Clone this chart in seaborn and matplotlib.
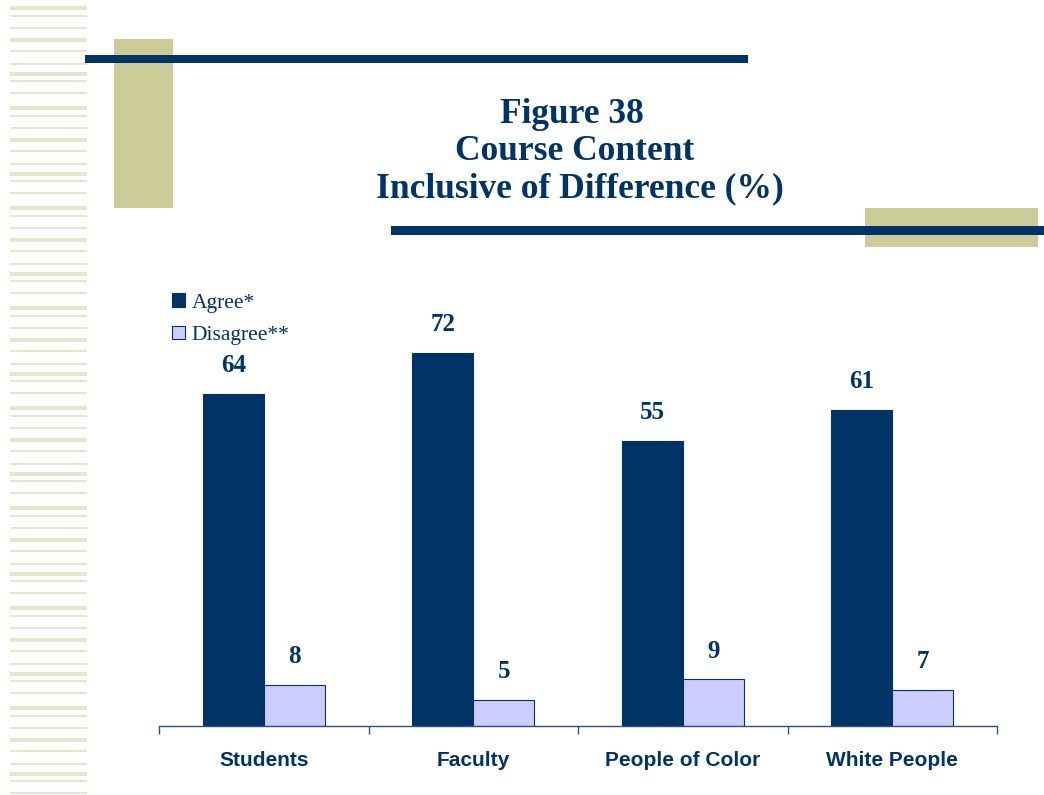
import pandas as pd
import matplotlib.pyplot as plt
import matplotlib.patches as mpatches
import seaborn as sns

# Datos del grafico
categorias = ['Students', 'Faculty', 'People of Color', 'White People']
agree = [64, 72, 55, 61]
disagree = [8, 5, 9, 7]
series = ['Agree*', 'Disagree**']

titulo = ['Figure 38', 'Course Content', 'Inclusive of Difference (%)']

navy = '#003366'
lavanda = '#CCCCFF'
caqui = '#CCCC99'
raya = '#E6E6CD'

df = pd.DataFrame({
    'Grupo': categorias * 2,
    'Serie': [series[0]] * len(categorias) + [series[1]] * len(categorias),
    'Valor': agree + disagree,
})

sns.set_style('white')
plt.rcParams['font.family'] = ['Liberation Serif', 'DejaVu Serif']

W, H = 1044, 795
fig = plt.figure(figsize=(W / 100, H / 100), dpi=100)


def rect(x0, y0, x1, y1, color, z=1):
    # rectangulo decorativo en pixeles de la figura
    fig.add_artist(mpatches.Rectangle((x0 / W, 1 - y1 / H), (x1 - x0) / W, (y1 - y0) / H,
                                      transform=fig.transFigure, color=color, lw=0, zorder=z))


# Franjas decorativas a la izquierda
patron = [(0, 4), (9, 1.5), (21, 1.5), (32, 4), (44, 1.5), (57, 1.5),
          (66, 4), (74, 1.5), (86, 1.5)]
inicio = 6
while inicio < H:
    for off, alto in patron:
        y = inicio + off
        if y < H - 2:
            rect(10, y, 87, y + alto, raya, z=0)
    inicio += 100

# Bloques y barras del encabezado
rect(114, 39, 173, 208, caqui, z=1)
rect(85, 55, 748, 63, navy, z=2)
rect(865, 208, 1038, 247, caqui, z=1)
rect(391, 226, 1044, 235, navy, z=2)

# Titulo
for txt, xc, yb in zip(titulo, [572, 575, 580], [123, 160, 197]):
    fig.text(xc / W, 1 - yb / H, txt, ha='center', va='baseline', fontsize=25.5,
             fontweight='bold', color=navy, family='Liberation Serif')

# Grafico de barras
ax = fig.add_axes([159 / W, 1 - 726 / H, (997 - 159) / W, 415 / H])
sns.barplot(data=df, x='Grupo', y='Valor', hue='Serie', palette=[navy, lavanda],
            saturation=1, width=0.58, gap=0, edgecolor=navy, linewidth=0.8,
            ax=ax, legend=False)

for cont in ax.containers:
    ax.bar_label(cont, padding=12, fontsize=18, fontweight='bold', color=navy,
                 family='Liberation Serif')

ax.set_ylim(0, 80)
ax.set_xlim(-0.5, len(categorias) - 0.5)
ax.set_xticks([i - 0.5 for i in range(len(categorias) + 1)])
ax.set_xticklabels([])
ax.set_xticks(range(len(categorias)), minor=True)
ax.set_xticklabels(categorias, minor=True, fontsize=15, fontweight='bold',
                   color=navy, family='Liberation Sans')
ax.tick_params(axis='x', which='major', direction='out', length=6, width=1,
               color='#2F4F7F', bottom=True)
ax.tick_params(axis='x', which='minor', length=0, pad=18)
ax.set_yticks([])
ax.set_xlabel('')
ax.set_ylabel('')
for lado in ['left', 'right', 'top']:
    ax.spines[lado].set_visible(False)
ax.spines['bottom'].set_color('#2F4F7F')
ax.spines['bottom'].set_linewidth(1)

# Leyenda
handles = [mpatches.Patch(facecolor=navy, edgecolor=navy, lw=0.8),
           mpatches.Patch(facecolor=lavanda, edgecolor=navy, lw=0.8)]
fig.legend(handles, series, loc='upper left', bbox_to_anchor=(168 / W, 1 - 289 / H),
           frameon=False, fontsize=15.5, handlelength=0.6, handleheight=0.6,
           handletextpad=0.3, labelspacing=0.6, labelcolor=navy,
           borderaxespad=0, borderpad=0.2)

fig.savefig('out.png', dpi=100)
